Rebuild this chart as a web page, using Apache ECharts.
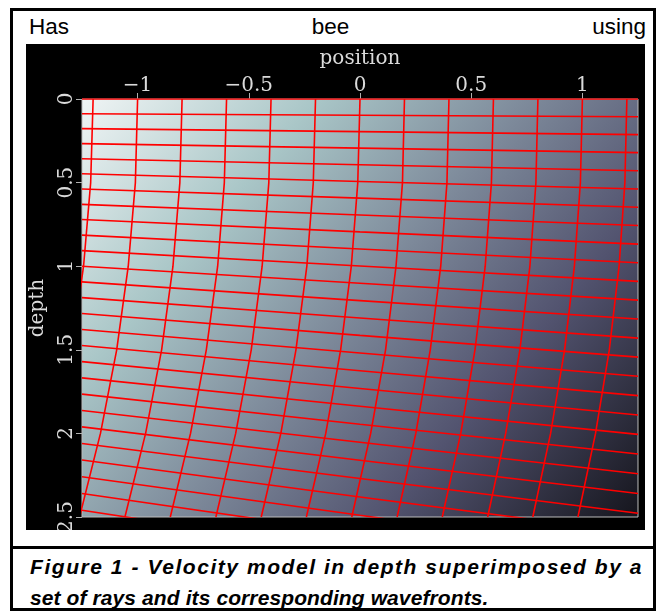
<!DOCTYPE html>
<html>
<head>
<meta charset="utf-8">
<script src="https://cdn.jsdelivr.net/npm/echarts@6/dist/echarts.min.js"></script>
<style>
  html, body { margin: 0; padding: 0; background: #fff; }
  #page { position: relative; width: 662px; height: 614px; overflow: hidden; }
  #frame { position: absolute; left: 10px; top: 8px; width: 640px; height: 597px; border: 3px solid #000; }
  #head { position: absolute; left: 29px; top: 13px; width: 617px; display: flex; justify-content: space-between;
          font: 22.5px "Liberation Sans", Arial, sans-serif; line-height: 28px; color: #000; }
  #chart { position: absolute; left: 26px; top: 44px; width: 619px; height: 486px; }
  #sep { position: absolute; left: 10px; top: 546px; width: 646px; height: 3px; background: #000; }
  #caption { position: absolute; left: 30px; top: 551px; width: 630px;
             font: italic bold 21px "Liberation Sans", Arial, sans-serif; line-height: 31px; color: #000; }
  #caption .l1 { letter-spacing: 1.55px; white-space: nowrap; }
  #caption .l2 { letter-spacing: 0.1px; white-space: nowrap; }
</style>
</head>
<body>
<div id="page">
  <div id="frame"></div>
  <div id="head"><span>Has</span><span>bee</span><span>using</span></div>
  <div id="chart"></div>
  <div id="sep"></div>
  <div id="caption">
    <div class="l1">Figure 1 - Velocity model in depth superimposed by a</div>
    <div class="l2">set of rays and its corresponding wavefronts.</div>
  </div>
</div>
<script>
// tick labels on the position axis
const xTicks = [-1, -0.5, 0, 0.5, 1];

// rays: x position of each ray at these depths
const rayDepths = [0, 0.5, 1, 1.5, 2, 2.5];
const rays = [
  [-1.2, -1.211, -1.243, -1.296, -1.370, -1.466],
  [-1.0, -1.010, -1.042, -1.094, -1.167, -1.261],
  [-0.8, -0.810, -0.841, -0.892, -0.964, -1.057],
  [-0.6, -0.610, -0.640, -0.691, -0.762, -0.853],
  [-0.4, -0.410, -0.440, -0.489, -0.559, -0.648],
  [-0.2, -0.210, -0.239, -0.288, -0.356, -0.444],
  [ 0.0, -0.010, -0.039, -0.087, -0.154, -0.241],
  [ 0.2,  0.191,  0.162,  0.115,  0.048, -0.037],
  [ 0.4,  0.391,  0.363,  0.316,  0.251,  0.167],
  [ 0.6,  0.591,  0.563,  0.517,  0.453,  0.370],
  [ 0.8,  0.791,  0.764,  0.719,  0.655,  0.574],
  [ 1.0,  0.991,  0.964,  0.920,  0.857,  0.777],
  [ 1.2,  1.191,  1.165,  1.121,  1.059,  0.980]
];

// wavefronts: depth at left edge, centre and right edge
const wavefrontX = [-1.25, 0, 1.25];
const wavefronts = [
  [0.000, 0.000, 0.000],
  [0.088, 0.097, 0.106],
  [0.177, 0.195, 0.213],
  [0.267, 0.294, 0.321],
  [0.357, 0.393, 0.429],
  [0.447, 0.493, 0.538],
  [0.538, 0.593, 0.647],
  [0.630, 0.694, 0.757],
  [0.721, 0.795, 0.868],
  [0.814, 0.897, 0.979],
  [0.907, 0.999, 1.091],
  [1.000, 1.102, 1.203],
  [1.094, 1.206, 1.316],
  [1.188, 1.310, 1.430],
  [1.283, 1.414, 1.544],
  [1.379, 1.519, 1.658],
  [1.474, 1.625, 1.774],
  [1.571, 1.731, 1.890],
  [1.668, 1.838, 2.006],
  [1.765, 1.945, 2.123],
  [1.863, 2.053, 2.241],
  [1.961, 2.161, 2.359],
  [2.060, 2.270, 2.478],
  [2.159, 2.380, 2.597],
  [2.259, 2.490, 2.718],
  [2.359, 2.600, 2.838],
  [2.460, 2.711, 2.959]
];

const chart = echarts.init(document.getElementById('chart'));

const minus = v => String(v).replace('-', '\u2212');
const labelFont = { color: '#dadada', fontFamily: 'DejaVu Serif', fontSize: 20 };
const red = { color: '#ff0000', width: 1.6 };

const series = [];
rays.forEach((xs, i) => {
  series.push({
    name: 'ray' + i,
    type: 'line',
    data: xs.map((x, j) => [x, rayDepths[j]]),
    symbol: 'none',
    silent: true,
    lineStyle: red
  });
});
wavefronts.forEach((zs, k) => {
  series.push({
    name: 'wf' + k,
    type: 'line',
    data: zs.map((z, j) => [wavefrontX[j], z]),
    symbol: 'none',
    silent: true,
    lineStyle: red
  });
});

chart.setOption({
  animation: false,
  backgroundColor: '#000',
  grid: {
    left: 56, top: 55, width: 556, height: 418,
    outerBoundsMode: 'none',
    containLabel: false,
    show: true,
    borderColor: '#bcbcbc',
    borderWidth: 1,
    // velocity model, light (slow) top left to dark (fast) bottom right
    backgroundColor: new echarts.graphic.LinearGradient(0, 0, 0.954, 1.072, [
      { offset: 0, color: '#f0f5f5' },
      { offset: 0.26, color: '#a9c6c7' },
      { offset: 0.5, color: '#7c8899' },
      { offset: 0.72, color: '#52536f' },
      { offset: 1, color: '#15151d' }
    ])
  },
  xAxis: {
    type: 'value',
    position: 'top',
    min: -1.25,
    max: 1.25,
    name: 'position',
    nameLocation: 'middle',
    nameGap: 30,
    nameTextStyle: labelFont,
    axisLine: { show: false, onZero: false },
    axisTick: { customValues: xTicks, length: 6, lineStyle: { color: '#b0b0b0' } },
    axisLabel: Object.assign({ customValues: xTicks, margin: 3, formatter: minus }, labelFont),
    splitLine: { show: false }
  },
  yAxis: {
    type: 'value',
    inverse: true,
    min: 0,
    max: 2.5,
    interval: 0.5,
    name: 'depth',
    nameLocation: 'middle',
    nameRotate: 90,
    nameGap: 34,
    nameTextStyle: labelFont,
    axisLine: { show: false, onZero: false },
    axisTick: { length: 6, lineStyle: { color: '#b0b0b0' } },
    axisLabel: Object.assign({ rotate: 90, margin: 5, formatter: minus, showMaxLabel: true }, labelFont),
    splitLine: { show: false }
  },
  series
});
</script>
</body>
</html>
